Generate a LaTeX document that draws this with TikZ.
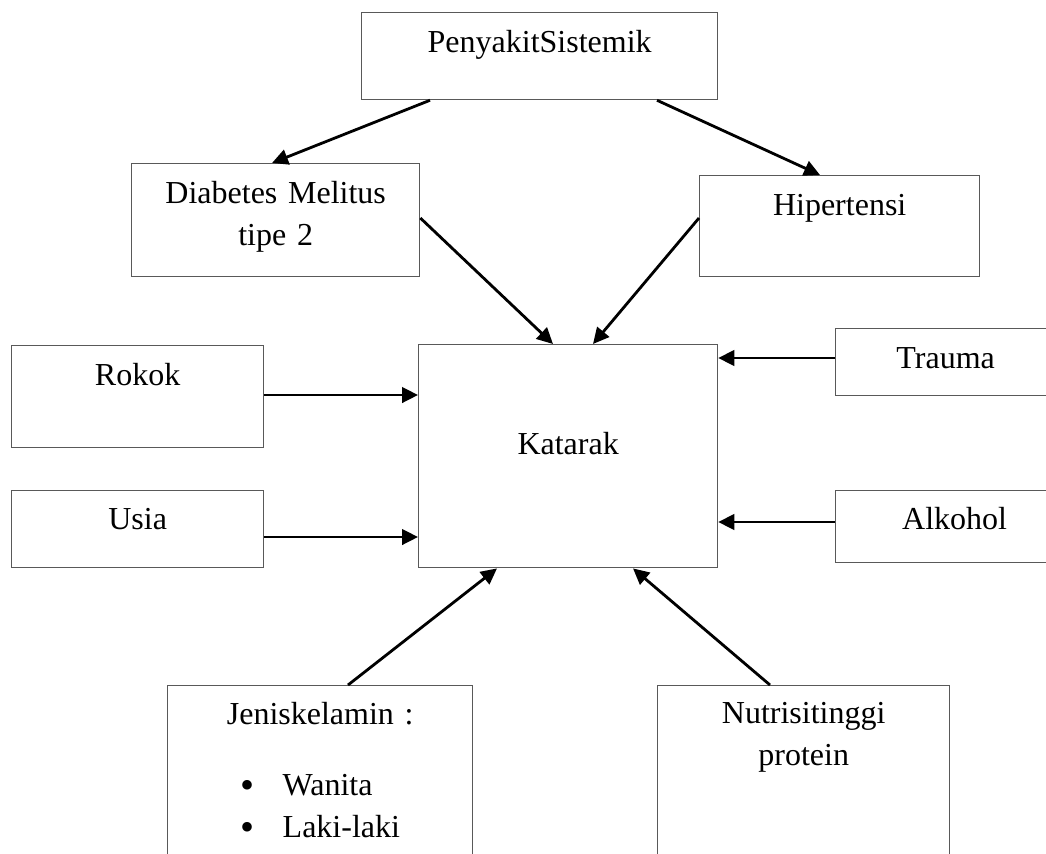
\documentclass[tikz,border=0pt]{standalone}
\usepackage{fontspec}
\setmainfont{Liberation Serif}
\usetikzlibrary{arrows.meta,calc}

\tikzset{
  kotak/.style={draw=black!65, line width=0.5pt, inner sep=0pt, align=center,
    anchor=north west, font=\fontsize{12}{15.75}\selectfont},
  panah/.style={-{Triangle[length=6pt,width=5.8pt]}, line width=1.05pt}
}
\newcommand{\titik}{\raisebox{-1pt}{\fontsize{15}{15}\selectfont •}}

\begin{document}
\begin{tikzpicture}[x=0.375pt,y=-0.375pt]
  \useasboundingbox (0,0) rectangle (1046,853);

  % Boxes
  \node[kotak, text width=133.5pt, text height=15pt, text depth=17.6pt] (penyakit) at (361,12) {PenyakitSistemik};
  \node[kotak, text width=108pt, text height=15pt, text depth=27.4pt] (diabetes) at (131,163) {Diabetes Melitus\\tipe 2};
  \node[kotak, text width=105pt, text height=15pt, text depth=22.9pt] (hipertensi) at (699,175) {Hipertensi};
  \node[kotak, text width=112.1pt, text height=41.25pt, text depth=42.4pt] (katarak) at (418,344) {Katarak};
  \node[kotak, text width=94.5pt, text height=15pt, text depth=23.25pt] (rokok) at (11,345) {Rokok};
  \node[kotak, text width=94.5pt, text height=14.6pt, text depth=14.25pt] (usia) at (11,490) {Usia};
  \node[kotak, text width=82.5pt, text height=15pt, text depth=10.1pt] (trauma) at (835,328) {Trauma};
  \node[kotak, text width=89.25pt, text height=14.6pt, text depth=12.4pt] (alkohol) at (835,490) {Alkohol};
  \node[kotak, text width=114.4pt, text height=14.6pt, text depth=62.3pt] (jenis) at (167,685)
    {Jeniskelamin :\\[10.9pt]\begin{tabular}[t]{@{}l@{\hspace{10.6pt}}l@{}}\titik&Wanita\\\titik&Laki-laki\end{tabular}};
  \node[kotak, text width=109.5pt, text height=14.25pt, text depth=62.6pt] (nutrisi) at (657,685) {Nutrisitinggi\\protein};

  % Arrows
  \draw[panah] ($(penyakit.south west)+(69,0)$) -- ($(diabetes.north west)+(141,0)$);
  \draw[panah] ($(penyakit.south west)+(296,0)$) -- ($(hipertensi.north west)+(121,0)$);
  \draw[panah] ($(diabetes.north east)+(0,55)$) -- ($(katarak.north west)+(135,0)$);
  \draw[panah] ($(hipertensi.north west)+(0,43)$) -- ($(katarak.north west)+(175,0)$);
  \draw[panah] ($(rokok.north east)+(0,50)$) coordinate (r) -- (r -| katarak.west);
  \draw[panah] ($(usia.north east)+(0,47)$) coordinate (u) -- (u -| katarak.west);
  \draw[panah] ($(trauma.north west)+(0,30)$) coordinate (t) -- (t -| katarak.east);
  \draw[panah] ($(alkohol.north west)+(0,32)$) coordinate (a) -- (a -| katarak.east);
  \draw[panah] ($(jenis.north west)+(181,0)$) -- ($(katarak.south west)+(79,0)$);
  \draw[panah] ($(nutrisi.north west)+(113,0)$) -- ($(katarak.south west)+(215,0)$);
\end{tikzpicture}
\end{document}
